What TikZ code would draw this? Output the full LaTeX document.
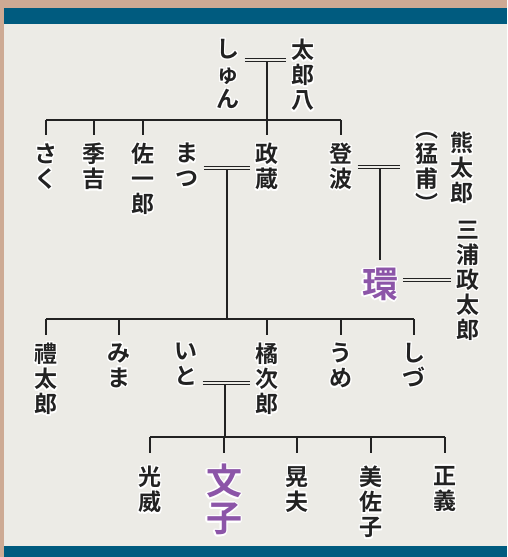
\documentclass[tikz,border=0pt]{standalone}
\usepackage{fontspec}
\usepackage[copies]{contour}
\usepackage{tikz}
\usetikzlibrary{positioning}
\newfontfamily\jpfont{Noto Sans CJK JP}[BoldFont={Noto Sans CJK JP Bold}]
\definecolor{parch}{HTML}{ECEBE6}
\definecolor{frame}{HTML}{CDAA94}
\definecolor{band}{HTML}{005B7F}
\definecolor{ink}{HTML}{222222}
\definecolor{heroine}{HTML}{8C55A8}
\contourlength{1.4pt}
\def\tatechar#1{\ifx#1\relax\else\hbox to 1em{\hss\contour{white}{#1}\hss}\expandafter\tatechar\fi}
\newcommand\tate[1]{\vbox{\lineskiplimit=-20pt\tatechar#1\relax}}
\tikzset{
  person/.style={font={\jpfont\bfseries\fontsize{23}{25}\selectfont}, text=ink, inner xsep=5pt, inner ysep=8pt, anchor=north},
  lead/.style={person, text=heroine, font={\jpfont\bfseries\fontsize{36}{37}\selectfont}},
  kin/.style={draw=ink, line width=1.3pt},
  wed/.style={draw=ink, double=parch, double distance=1.8pt, line width=1.5pt}
}
\begin{document}
\begin{tikzpicture}[x=1pt,y=-1pt]
\useasboundingbox (0,0) rectangle (507,557);
\fill[parch] (0,0) rectangle (507,557);
\fill[frame] (0,0) rectangle (507,8);
\fill[frame] (0,0) rectangle (4,557);
\fill[band] (4,8) rectangle (507,24);
\fill[band] (4,546) rectangle (507,557);

\node[person] (shun) at (228,31) {\tate{しゅん}};
\node[person] (taro) at (303,31) {\tate{太郎八}};

\node[person] (saku) at (46,135) {\tate{さく}};
\node[person] (sue) at (94,135) {\tate{季吉}};
\node[person] (sai) at (143,135) {\tate{佐一郎}};
\node[person] (matsu) at (187,135) {\tate{まつ}};
\node[person] (masa) at (267,135) {\tate{政蔵}};
\node[person] (nobo) at (341,135) {\tate{登波}};
\node[person] (kuma) at (462,124) {\tate{熊太郎}};
\node[person, left=2pt of kuma.north west, anchor=north east] (moho) {\tate{︵猛甫︶}};
\node[lead] (tamaki) at (380,260) {\tate{環}};
\node[person] (miura) at (468,213) {\tate{三浦政太郎}};

\node[person] (rei) at (46,335) {\tate{禮太郎}};
\node[person] (mima) at (119,335) {\tate{みま}};
\node[person] (ito) at (186,335) {\tate{いと}};
\node[person] (kitsu) at (267,335) {\tate{橘次郎}};
\node[person] (ume) at (341,335) {\tate{うめ}};
\node[person] (shizu) at (414,335) {\tate{しづ}};

\node[person, inner ysep=13pt] (mitsu) at (150,453) {\tate{光威}};
\node[lead, inner ysep=11pt] (fumi) at (224,453) {\tate{文子}};
\node[person, inner ysep=13pt] (akio) at (297,453) {\tate{晃夫}};
\node[person, inner ysep=13pt] (misa) at (371,453) {\tate{美佐子}};
\node[person, inner ysep=13pt] (masayoshi) at (445,453) {\tate{正義}};

\coordinate (w0) at (267,60);
\coordinate (b0) at (267,120);
\coordinate (w1) at (227,168);
\coordinate (b1) at (227,319);
\coordinate (w2) at (380,167);
\coordinate (w3) at (425,280);
\coordinate (w4) at (225,383);
\coordinate (b2) at (225,437);

\draw[wed] (shun.east |- w0) -- (taro.west |- w0);
\draw[kin, shorten <=2pt] (w0) -- (b0);
\draw[kin] (saku.north |- b0) -- (nobo.north |- b0);
\foreach \k in {saku,sue,sai,masa,nobo} \draw[kin] (\k.north |- b0) -- (\k.north);

\draw[wed] (matsu.east |- w1) -- (masa.west |- w1);
\draw[wed, shorten >=10pt] (nobo.east |- w2) -- (moho.west |- w2);
\draw[kin, shorten <=2pt] (w2) -- (tamaki.north);
\draw[wed] (tamaki.east |- w3) -- (miura.west |- w3);

\draw[kin, shorten <=2pt] (w1) -- (b1);
\draw[kin] (rei.north |- b1) -- (shizu.north |- b1);
\foreach \k in {rei,mima,kitsu,ume,shizu} \draw[kin] (\k.north |- b1) -- (\k.north);

\draw[wed] (ito.east |- w4) -- (kitsu.west |- w4);
\draw[kin, shorten <=2pt] (w4) -- (b2);
\draw[kin] (mitsu.north |- b2) -- (masayoshi.north |- b2);
\foreach \k in {mitsu,fumi,akio,misa,masayoshi} \draw[kin] (\k.north |- b2) -- (\k.north);
\end{tikzpicture}
\end{document}
